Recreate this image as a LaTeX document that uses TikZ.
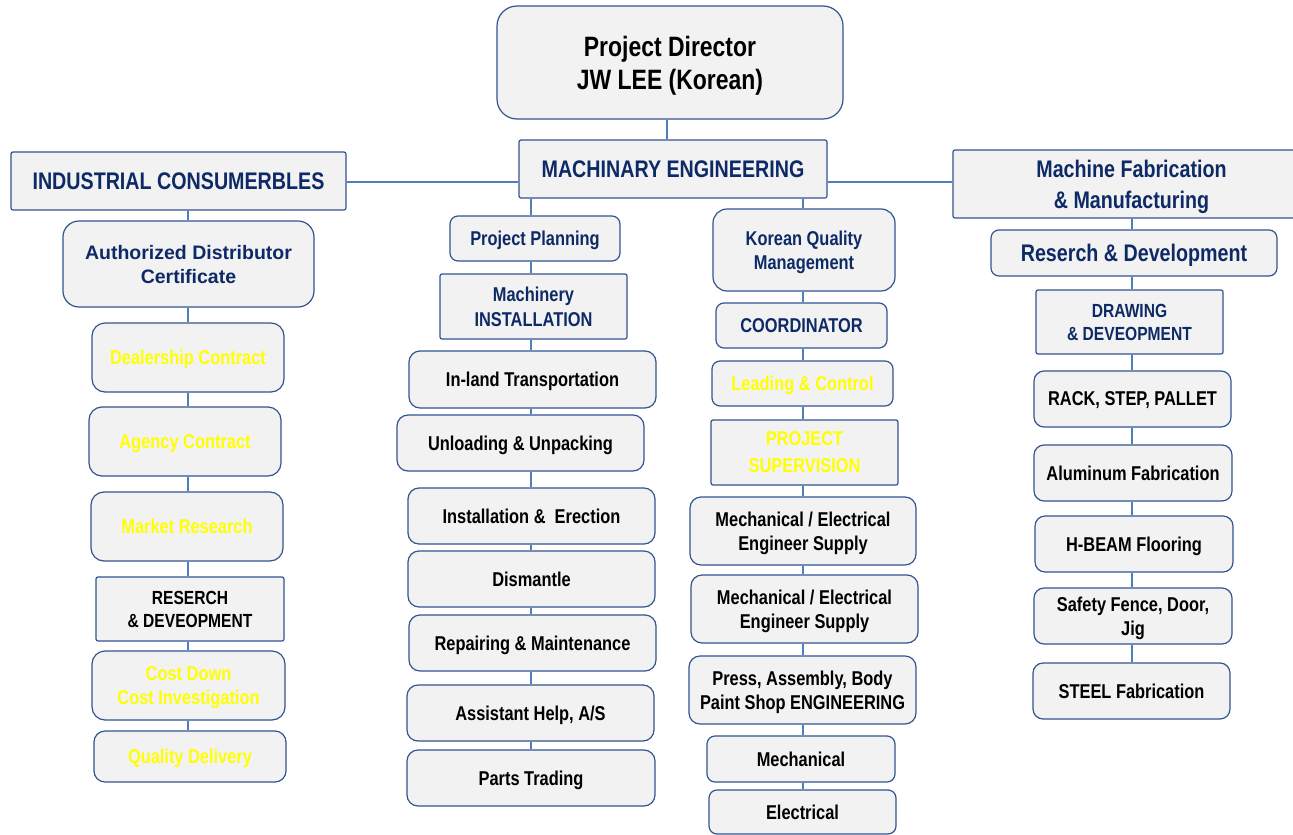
\documentclass[tikz,border=0pt]{standalone}
\usepackage{fontspec}
\setmainfont{Liberation Sans}[FakeStretch=0.82]
\newfontfamily\widefont{Liberation Sans}
\usetikzlibrary{backgrounds}
\definecolor{boxfill}{HTML}{F2F2F2}
\definecolor{boxline}{HTML}{34548F}
\definecolor{conn}{HTML}{4F7EBF}
\definecolor{navy}{HTML}{0E2A66}
\definecolor{yel}{HTML}{FFFF00}
\tikzset{
  x=1pt,y=-1pt,
  box/.style={draw=boxline, line width=1.2pt, fill=boxfill, inner sep=0pt, align=center, text depth=0pt, font=\bfseries\fontsize{20}{24}\selectfont},
  rbox/.style={box, rounded corners=#1},
  rbox/.default=10pt,
  sbox/.style={box, rounded corners=2pt},
  nv/.style={text=navy},
  yl/.style={text=yel},
  bk/.style={text=black},
  link/.style={draw=conn, line width=2pt},
}
\newcommand\bx[7]{\node[#1, minimum width=#4pt, minimum height=#5pt, #6] (#2) at (#3) {#7};}
\begin{document}
\begin{tikzpicture}
\useasboundingbox (0,0) rectangle (1293,835);
% top
\bx{rbox=20pt}{dir}{670,62.5}{346}{113}{bk, font=\bfseries\fontsize{28}{33}\selectfont}{Project Director\\JW LEE (Korean)}
\bx{sbox}{me}{673,169}{308}{58}{nv, font=\bfseries\fontsize{24}{28}\selectfont}{MACHINARY ENGINEERING}
\bx{sbox}{ic}{178.5,181}{335}{58}{nv, font=\bfseries\fontsize{24}{28}\selectfont}{INDUSTRIAL CONSUMERBLES}
\bx{sbox}{mf}{1131.5,184}{357}{68}{nv, font=\bfseries\fontsize{24}{31}\selectfont}{Machine Fabrication\\\& Manufacturing}
% column 1
\bx{rbox=16pt}{adc}{188.5,264}{251}{86}{nv, font=\widefont\bfseries\fontsize{19.5}{24}\selectfont}{Authorized Distributor\\Certificate}
\bx{rbox=13pt}{dc}{188,357.5}{192}{69}{yl}{Dealership Contract}
\bx{rbox=13pt}{ac}{185,441.5}{192}{69}{yl}{Agency Contract}
\bx{rbox=13pt}{mr}{187,526.5}{192}{69}{yl}{Market Research}
\bx{sbox}{rd1}{190,609}{188}{64}{bk, font=\bfseries\fontsize{19}{23}\selectfont}{RESERCH\\\& DEVEOPMENT}
\bx{rbox=13pt}{cd}{188.5,685.5}{193}{69}{yl}{Cost Down\\Cost Investigation}
\bx{rbox=11pt}{qd}{190,756.5}{192}{51}{yl}{Quality Delivery}
% column 2
\bx{rbox=8pt}{pp}{535,238.5}{170}{45}{nv}{Project Planning}
\bx{sbox}{mi}{533.5,306.5}{187}{65}{nv, font=\bfseries\fontsize{20}{25}\selectfont}{Machinery\\INSTALLATION}
\bx{rbox=11pt}{it}{532.5,379.5}{247}{57}{bk}{In-land Transportation}
\bx{rbox=11pt}{uu}{520.5,443}{247}{56}{bk}{Unloading \& Unpacking}
\bx{rbox=11pt}{ie}{531.5,516}{247}{56}{bk}{Installation \&~~Erection}
\bx{rbox=11pt}{dm}{531.5,579}{247}{56}{bk}{Dismantle}
\bx{rbox=11pt}{rm}{532.5,643}{247}{56}{bk}{Repairing \& Maintenance}
\bx{rbox=11pt}{ah}{530.5,713}{247}{56}{bk}{Assistant Help, A/S}
\bx{rbox=11pt}{pt}{531,778}{248}{56}{bk}{Parts Trading}
% column 3
\bx{rbox=14pt}{kq}{804,250}{182}{82}{nv}{Korean Quality\\Management}
\bx{rbox=8pt}{co}{801.5,325.5}{171}{45}{nv}{COORDINATOR}
\bx{rbox=8pt}{lc}{802.5,383.5}{181}{45}{yl}{Leading \& Control}
\bx{sbox}{ps}{804.5,452.5}{187}{65}{yl, font=\bfseries\fontsize{20}{27}\selectfont}{PROJECT\\SUPERVISION}
\bx{rbox=11pt}{me1}{803,531}{226}{68}{bk}{Mechanical / Electrical\\Engineer Supply}
\bx{rbox=11pt}{me2}{804.5,609}{227}{68}{bk}{Mechanical / Electrical\\Engineer Supply}
\bx{rbox=11pt}{pa}{802.5,690}{227}{68}{bk}{Press, Assembly, Body\\Paint Shop ENGINEERING}
\bx{rbox=8pt}{mc}{801,759}{188}{46}{bk}{Mechanical}
\bx{rbox=8pt}{el}{802.5,812}{187}{44}{bk}{Electrical}
% column 4
\bx{rbox=8pt}{rd}{1134,253}{286}{46}{nv, font=\bfseries\fontsize{24}{28}\selectfont}{Reserch \& Development}
\bx{sbox}{dd}{1129.5,322}{187}{64}{nv, font=\bfseries\fontsize{19}{23}\selectfont}{DRAWING\\\& DEVEOPMENT}
\bx{rbox=10pt}{rk}{1132.5,399}{197}{56}{bk}{RACK, STEP, PALLET}
\bx{rbox=10pt}{al}{1133,473}{198}{56}{bk}{Aluminum Fabrication}
\bx{rbox=10pt}{hb}{1134,544}{198}{56}{bk}{H-BEAM Flooring}
\bx{rbox=10pt}{sf}{1133,616}{198}{56}{bk, font=\bfseries\fontsize{20}{24}\selectfont}{Safety Fence, Door,\\Jig}
\bx{rbox=10pt}{st}{1131.5,691}{197}{56}{bk}{STEEL Fabrication}
% spines
\coordinate (s0) at (667,0);
\coordinate (s1) at (188,0);
\coordinate (s2) at (531,0);
\coordinate (s3) at (803,0);
\coordinate (s4) at (1132,0);
\coordinate (h) at (0,182);
\begin{scope}[on background layer]
\fill[white] (0,0) rectangle (1293,835);
\draw[link] (dir.south -| s0) -- (me.north -| s0);
\draw[link] (ic.east |- h) -- (me.west |- h);
\draw[link] (me.east |- h) -- (mf.west |- h);
\foreach \a/\b in {ic/adc,adc/dc,dc/ac,ac/mr,mr/rd1,rd1/cd,cd/qd}
  \draw[link] (\a.south -| s1) -- (\b.north -| s1);
\foreach \a/\b in {me/pp,pp/mi,mi/it,it/uu,uu/ie,ie/dm,dm/rm,rm/ah,ah/pt}
  \draw[link] (\a.south -| s2) -- (\b.north -| s2);
\foreach \a/\b in {me/kq,kq/co,co/lc,lc/ps,ps/me1,me1/me2,me2/pa,pa/mc,mc/el}
  \draw[link] (\a.south -| s3) -- (\b.north -| s3);
\foreach \a/\b in {mf/rd,rd/dd,dd/rk,rk/al,al/hb,hb/sf,sf/st}
  \draw[link] (\a.south -| s4) -- (\b.north -| s4);
\end{scope}
\end{tikzpicture}
\end{document}
